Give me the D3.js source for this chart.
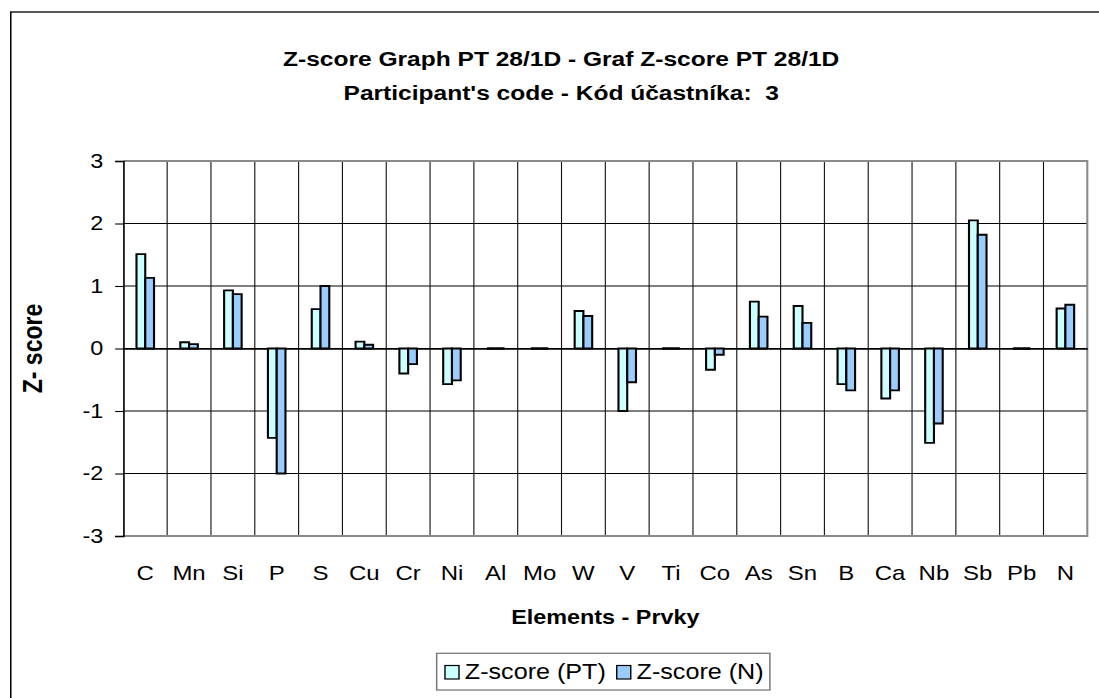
<!DOCTYPE html>
<html>
<head>
<meta charset="utf-8">
<script src="https://cdn.jsdelivr.net/npm/d3@7/dist/d3.min.js"></script>
<style>
  html, body { margin: 0; padding: 0; background: #fff; }
  svg { display: block; }
  text { font-family: "Liberation Sans", Arial, sans-serif; fill: #000; white-space: pre; }
</style>
</head>
<body>
<svg id="chart"></svg>
<script>
// ---- data ----
const categories = ["C","Mn","Si","P","S","Cu","Cr","Ni","Al","Mo","W","V","Ti","Co","As","Sn","B","Ca","Nb","Sb","Pb","N"];
const zPT = [1.51,0.10,0.93,-1.43,0.63,0.11,-0.40,-0.57,0,0,0.60,-1.00,0,-0.34,0.75,0.68,-0.57,-0.80,-1.51,2.05,0,0.64];
const zN  = [1.13,0.07,0.87,-2.00,1.00,0.06,-0.25,-0.51,0,0,0.52,-0.54,0,-0.10,0.51,0.41,-0.67,-0.67,-1.20,1.82,0,0.70];
const seriesNames = ["Z-score (PT)", "Z-score (N)"];
const seriesColors = ["#CCFFFF", "#99CCFF"];
const yTicks = [-3,-2,-1,0,1,2,3];
const titleLines = ["Z-score Graph PT 28/1D - Graf Z-score PT 28/1D", "Participant's code - Kód účastníka:  3"];
const xTitle = "Elements - Prvky";
const yTitle = "Z- score";

// ---- layout (internal coords, stretched horizontally to 1099) ----
const W = 940, H = 698;
const svg = d3.select("#chart")
  .attr("width", 1099).attr("height", 698)
  .attr("viewBox", `0 0 ${W} ${H}`)
  .attr("preserveAspectRatio", "none");

const plot = {left: 105.5, right: 930, top: 161, bottom: 536};

// outer chart border (clipped at right/bottom)
svg.append("rect").attr("x", 9.2).attr("y", 12).attr("width", W + 20).attr("height", H + 20)
  .attr("fill", "#fff").attr("stroke", "#000").attr("stroke-width", 1.3);

const x = d3.scaleBand().domain(categories).range([plot.left, plot.right]).paddingInner(0).paddingOuter(0);
const xs = d3.scaleBand().domain(seriesNames).range([x.bandwidth()*0.3, x.bandwidth()*0.7]).padding(0);
const y = d3.scaleLinear().domain([-3, 3]).range([plot.bottom, plot.top]);

// horizontal grid
svg.append("g").selectAll("line").data(yTicks.filter(t => t !== -3 && t !== 3)).join("line")
  .attr("x1", plot.left).attr("x2", plot.right)
  .attr("y1", d => y(d)).attr("y2", d => y(d))
  .attr("stroke", "#000").attr("stroke-width", 1.1);

// vertical grid at category boundaries
svg.append("g").selectAll("line").data(categories.slice(1)).join("line")
  .attr("x1", d => x(d)).attr("x2", d => x(d))
  .attr("y1", plot.top).attr("y2", plot.bottom)
  .attr("stroke", "#111").attr("stroke-width", 0.95);

// plot border: top/right/bottom gray
svg.append("path")
  .attr("d", `M${plot.left},${plot.top} H${plot.right} V${plot.bottom} H${plot.left}`)
  .attr("fill", "none").attr("stroke", "#8a8a8a").attr("stroke-width", 1.8);

// y axis
const yAxis = svg.append("g").attr("transform", `translate(${plot.left},0)`)
  .call(d3.axisLeft(y).tickValues(yTicks).tickSize(7).tickPadding(0).tickFormat(d3.format("d")));
yAxis.select(".domain").attr("stroke", "#000").attr("stroke-width", 1.4);
yAxis.selectAll(".tick line").attr("stroke", "#000").attr("stroke-width", 1.1);
yAxis.selectAll(".tick text").remove();
svg.append("g").selectAll("text").data(yTicks).join("text")
  .attr("x", 88.4).attr("y", d => y(d) + 7)
  .attr("text-anchor", "end").attr("font-size", 20)
  .text(d => d);

// x axis at zero
const xAxis = svg.append("g").attr("transform", `translate(0,${y(0)})`)
  .call(d3.axisBottom(x).tickSize(0).tickFormat(""));
xAxis.select(".domain").attr("stroke", "#000").attr("stroke-width", 1.3);
xAxis.selectAll(".tick").remove();

// bars
const barData = [];
categories.forEach((c, i) => {
  barData.push({cat: c, s: seriesNames[0], v: zPT[i], color: seriesColors[0]});
  barData.push({cat: c, s: seriesNames[1], v: zN[i], color: seriesColors[1]});
});
svg.append("g").selectAll("path").data(barData).join("path")
  .attr("d", d => {
    const x0 = x(d.cat) + xs(d.s), x1 = x0 + xs.bandwidth();
    const y0 = y(0), y1 = y(d.v);
    return `M${x0},${y0} V${y1} H${x1} V${y0} Z`;
  })
  .attr("fill", d => d.color).attr("stroke", "#000").attr("stroke-width", d => d.v === 0 ? 2.6 : 1.8)
  .attr("stroke-linejoin", "miter");

// x tick labels
svg.append("g").selectAll("text").data(categories).join("text")
  .attr("x", d => x(d) + x.bandwidth()/2).attr("y", 580)
  .attr("text-anchor", "middle").attr("font-size", 20.5)
  .text(d => d);

// titles
svg.append("g").selectAll("text").data(titleLines).join("text")
  .attr("x", 480).attr("y", (d, i) => 66 + i*34)
  .attr("text-anchor", "middle").attr("font-size", 21).attr("font-weight", "bold")
  .text(d => d);

svg.append("text").attr("x", (plot.left + plot.right)/2).attr("y", 624)
  .attr("text-anchor", "middle").attr("font-size", 20).attr("font-weight", "bold")
  .text(xTitle);

svg.append("text")
  .attr("transform", `translate(36,${(plot.top + plot.bottom)/2}) rotate(-90)`)
  .attr("text-anchor", "middle").attr("font-size", 23).attr("font-weight", "bold")
  .text(yTitle);

// legend
const lg = svg.append("g");
lg.append("rect").attr("x", 373.5).attr("y", 653.3).attr("width", 285).attr("height", 36.7)
  .attr("fill", "#fff").attr("stroke", "#7a7a7a").attr("stroke-width", 1.3);
const legendX = [380.6, 527.5];
seriesNames.forEach((s, i) => {
  lg.append("rect").attr("x", legendX[i]).attr("y", 665.5).attr("width", 12).attr("height", 13.5)
    .attr("fill", seriesColors[i]).attr("stroke", "#000").attr("stroke-width", 1.2);
  lg.append("text").attr("x", legendX[i] + 17).attr("y", 679.5)
    .attr("font-size", 21.5).text(s);
});
</script>
</body>
</html>
